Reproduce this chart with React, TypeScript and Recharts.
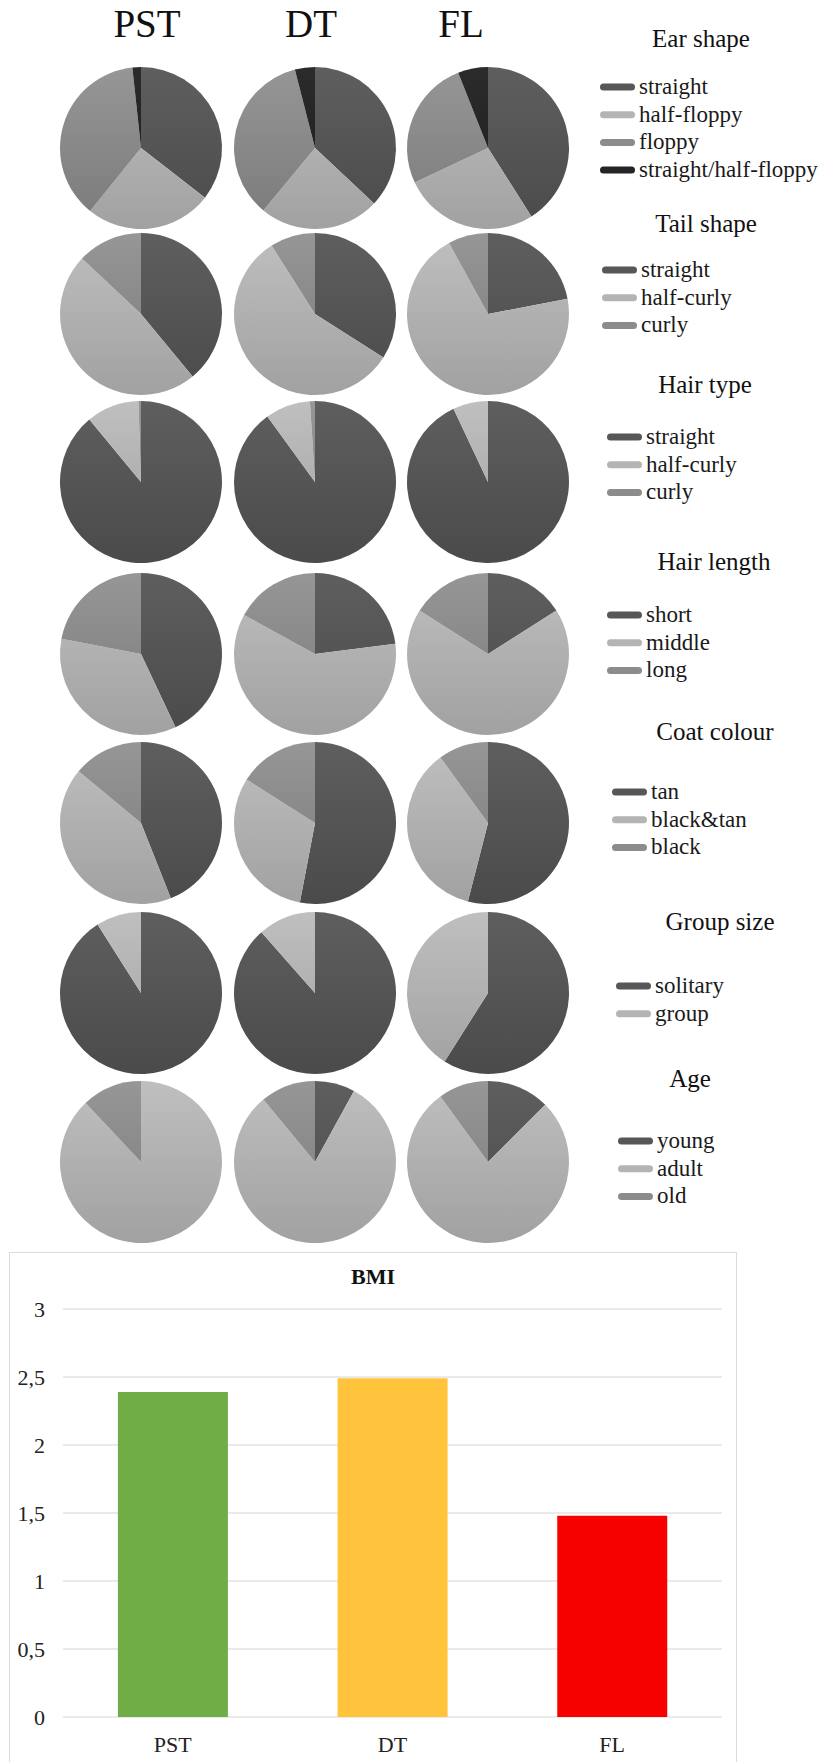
import { PieChart, Pie, Cell, BarChart, Bar, XAxis, YAxis, CartesianGrid } from 'recharts';

const groups = ['PST', 'DT', 'FL'];

// pie shares in %, read clockwise from 12 o'clock
const earShape = ['straight', 'half-floppy', 'floppy', 'straight/half-floppy'];
const earPST = [35.5, 25.3, 37.5, 1.7];
const earDT = [37, 24, 35, 4];
const earFL = [41, 27, 26, 6];

const tailShape = ['straight', 'half-curly', 'curly'];
const tailPST = [39, 48, 13];
const tailDT = [34, 57, 9];
const tailFL = [22, 70, 8];

const hairType = ['straight', 'half-curly', 'curly'];
const hairTypePST = [89, 10.5, 0.5];
const hairTypeDT = [90, 9, 1];
const hairTypeFL = [93, 7, 0];

const hairLength = ['short', 'middle', 'long'];
const hairLengthPST = [43, 35, 22];
const hairLengthDT = [23, 60, 17];
const hairLengthFL = [16, 68, 16];

const coatColour = ['tan', 'black&tan', 'black'];
const coatPST = [44, 42, 14];
const coatDT = [53, 31, 16];
const coatFL = [54, 36, 10];

const groupSize = ['solitary', 'group'];
const groupPST = [91, 9];
const groupDT = [88.5, 11.5];
const groupFL = [59, 41];

const age = ['young', 'adult', 'old'];
const agePST = [0, 88, 12];
const ageDT = [8, 81, 11];
const ageFL = [12.5, 77.5, 10];

const bmiValues = [2.39, 2.49, 1.48];
const bmiTicks = [0, 0.5, 1, 1.5, 2, 2.5, 3];

const SLICE_COLORS = ['#575757', '#b4b4b4', '#8c8c8c', '#242424'];
// top / bottom shade of each slice colour (the original pies are softly shaded)
const SLICE_TOP = ['#5f5f5f', '#c0c0c0', '#979797', '#2c2c2c'];
const SLICE_BOTTOM = ['#4b4b4b', '#a2a2a2', '#7b7b7b', '#1b1b1b'];
const BAR_COLORS = ['#70ad47', '#ffc33c', '#f70000'];
const SERIF = "'Liberation Serif', 'Times New Roman', serif";

const rows = [
  { title: 'Ear shape', labels: earShape, values: [earPST, earDT, earFL] },
  { title: 'Tail shape', labels: tailShape, values: [tailPST, tailDT, tailFL] },
  { title: 'Hair type', labels: hairType, values: [hairTypePST, hairTypeDT, hairTypeFL] },
  { title: 'Hair length', labels: hairLength, values: [hairLengthPST, hairLengthDT, hairLengthFL] },
  { title: 'Coat colour', labels: coatColour, values: [coatPST, coatDT, coatFL] },
  { title: 'Group size', labels: groupSize, values: [groupPST, groupDT, groupFL] },
  { title: 'Age', labels: age, values: [agePST, ageDT, ageFL] },
];

// layout (px)
const ROW_CY = [143, 309, 477, 649, 818, 988, 1157];
const COL_CX = [136, 310, 483];
const COL_TITLE_X = [147, 311, 461];
const RADIUS = 81;
const LEGEND_X = [600, 602, 607, 607, 612, 616, 618];
const LEGEND_TITLE_X = [701, 706, 705, 714, 715, 720, 690];
const LEGEND_TITLE_Y = [47, 232, 393, 570, 740, 930, 1087];
const LEGEND_ITEM_Y = [87, 270, 437, 615, 792, 986, 1141];
const LEGEND_STEP = 27.7;

function Legends() {
  return (
    <svg width={827} height={1250} style={{ position: 'absolute', left: 0, top: 0, pointerEvents: 'none' }}>
      {groups.map((g, i) => (
        <text key={g} x={COL_TITLE_X[i]} y={37} textAnchor="middle" fontFamily={SERIF} fontSize={39} fill="#111">
          {g}
        </text>
      ))}
      {rows.map((row, r) => (
        <g key={row.title}>
          <text x={LEGEND_TITLE_X[r]} y={LEGEND_TITLE_Y[r]} textAnchor="middle" fontFamily={SERIF} fontSize={25} fill="#111">
            {row.title}
          </text>
          {row.labels.map((label, k) => {
            const y = LEGEND_ITEM_Y[r] + k * LEGEND_STEP;
            return (
              <g key={label}>
                <rect x={LEGEND_X[r]} y={y - 3.5} width={35} height={7} rx={3.5} fill={SLICE_COLORS[k]} />
                <text x={LEGEND_X[r] + 39} y={y + 7} fontFamily={SERIF} fontSize={23} fill="#1a1a1a">
                  {label}
                </text>
              </g>
            );
          })}
        </g>
      ))}
    </svg>
  );
}

function PieGrid() {
  return (
    <PieChart width={600} height={1250} style={{ position: 'absolute', left: 0, top: 0 }}>
      <defs>
        {ROW_CY.map((cy, r) =>
          SLICE_COLORS.map((c, k) => (
            <linearGradient
              key={`g-${r}-${k}`}
              id={`shade-${r}-${k}`}
              gradientUnits="userSpaceOnUse"
              x1={0}
              y1={cy - RADIUS}
              x2={0}
              y2={cy + RADIUS}
            >
              <stop offset="0%" stopColor={SLICE_TOP[k]} />
              <stop offset="100%" stopColor={SLICE_BOTTOM[k]} />
            </linearGradient>
          ))
        )}
      </defs>
      {rows.map((row, r) =>
        row.values.map((vals, c) => {
          const data = row.labels.map((label, k) => ({ name: label, value: vals[k] }));
          return (
            <Pie
              key={`${row.title}-${c}`}
              data={data}
              dataKey="value"
              nameKey="name"
              cx={COL_CX[c]}
              cy={ROW_CY[r]}
              outerRadius={RADIUS}
              innerRadius={0}
              startAngle={90}
              endAngle={-270}
              stroke="none"
              label={false}
              labelLine={false}
              isAnimationActive={false}
            >
              {data.map((d, k) => (
                <Cell key={`cell-${k}`} fill={`url(#shade-${r}-${k})`} />
              ))}
            </Pie>
          );
        })
      )}
    </PieChart>
  );
}

function BmiChart() {
  const data = groups.map((g, i) => ({ name: g, bmi: bmiValues[i] }));
  return (
    <div style={{ position: 'absolute', left: 0, top: 1240, width: 740, height: 522 }}>
      <div
        style={{
          position: 'absolute',
          left: 9,
          top: 12,
          width: 728,
          height: 520,
          border: '1px solid #dcdcdc',
          boxSizing: 'border-box',
        }}
      />
      <div
        style={{
          position: 'absolute',
          left: 273,
          width: 200,
          top: 24,
          textAlign: 'center',
          fontFamily: SERIF,
          fontWeight: 'bold',
          fontSize: 22,
          color: '#111',
        }}
      >
        BMI
      </div>
      <BarChart
        width={740}
        height={522}
        data={data}
        margin={{ top: 69, right: 18, left: 0, bottom: 0 }}
        barCategoryGap="25%"
        style={{ position: 'absolute', left: 0, top: 0 }}
      >
        <CartesianGrid vertical={false} stroke="#e3e3e3" strokeWidth={1.5} />
        <XAxis
          dataKey="name"
          axisLine={false}
          tickLine={false}
          tickSize={0}
          tickMargin={19}
          height={45}
          tick={{ fontSize: 22, fill: '#222', fontFamily: SERIF }}
        />
        <YAxis
          type="number"
          domain={[0, 3]}
          ticks={bmiTicks}
          width={63}
          axisLine={false}
          tickLine={false}
          tickSize={0}
          tickMargin={18}
          tickFormatter={(v) => String(v).replace('.', ',')}
          tick={{ fontSize: 22, fill: '#222', fontFamily: SERIF }}
        />
        <Bar dataKey="bmi" isAnimationActive={false}>
          {data.map((d, i) => (
            <Cell key={`bar-${i}`} fill={BAR_COLORS[i]} />
          ))}
        </Bar>
      </BarChart>
    </div>
  );
}

export default function App() {
  return (
    <div
      style={{
        position: 'absolute',
        left: 0,
        top: 0,
        width: 827,
        height: 1762,
        overflow: 'hidden',
        background: '#fff',
      }}
    >
      <PieGrid />
      <Legends />
      <BmiChart />
    </div>
  );
}
